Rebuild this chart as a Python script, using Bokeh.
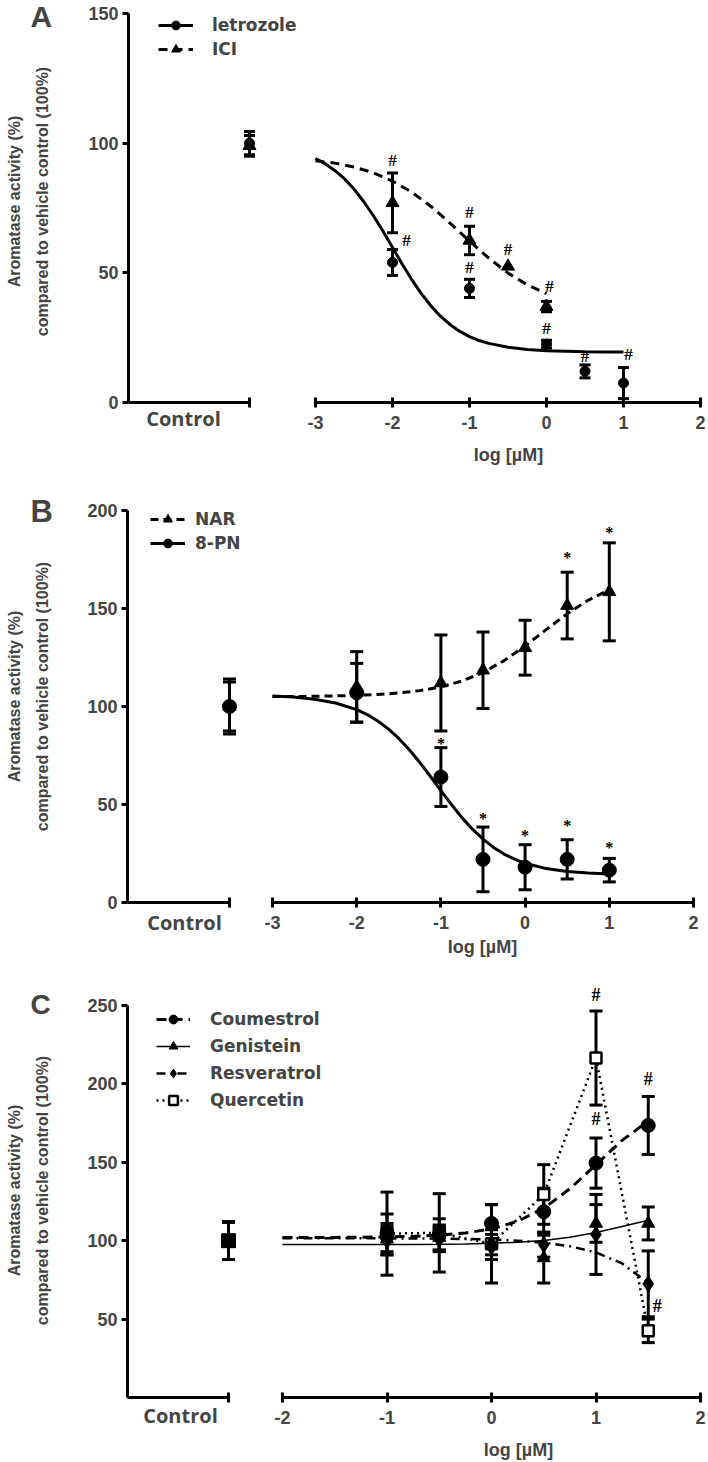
import math
from bokeh.plotting import figure
from bokeh.layouts import column
from bokeh.models import (ColumnDataSource, Whisker, TeeHead, LinearAxis, FixedTicker,
                          Range1d, Legend, LegendItem, Label, LabelSet)
from bokeh.embed import file_html
from bokeh.resources import INLINE

# ======================= DATA =======================
# ---- Panel A ----
A_letro_x = [-2.0, -1.0, 0.0, 0.5, 1.0]
A_letro_y = [54.0, 44.0, 22.5, 12.0, 7.5]
A_letro_err = [5.0, 3.5, 1.5, 2.5, 6.0]
A_letro_sig = ["#", "#", "#", "#", "#"]
A_ici_x = [-2.0, -1.0, -0.5, 0.0]
A_ici_y = [77.0, 62.5, 52.5, 37.0]
A_ici_err = [11.5, 5.5, 0.0, 2.0]
A_ici_sig = ["#", "#", "#", "#"]
A_ctrl_y = [100.0, 99.0]          # letrozole, ICI
A_ctrl_err = [4.5, 4.0]
A_fit_letro_x = [-3.0, -2.875, -2.75, -2.625, -2.5, -2.375, -2.25, -2.125, -2.0, -1.875, -1.75,
                 -1.625, -1.5, -1.375, -1.25, -1.125, -1.0, -0.875, -0.75, -0.5, -0.25,
                 0.0, 0.25, 0.5, 0.75, 1.0]
A_fit_letro_y = [94.1, 92.1, 89.5, 86.3, 82.3, 77.5, 72.1, 66.1, 59.8, 53.4, 47.4,
                 42.0, 37.2, 33.2, 30.0, 27.4, 25.4, 23.9, 22.8, 21.3, 20.4,
                 20.0, 19.8, 19.6, 19.5, 19.5]
A_fit_ici_x = [-3.0, -2.75, -2.5, -2.25, -2.0, -1.75, -1.5, -1.25, -1.0, -0.75, -0.5, -0.25, 0.0]
A_fit_ici_y = [93.2, 92.3, 90.8, 88.6, 85.4, 81.1, 75.6, 69.1, 62.2, 55.7, 49.9, 45.4, 42.0]
A_x_ticks = [-3, -2, -1, 0, 1, 2]
A_y_ticks = [0, 50, 100, 150]

# ---- Panel B ----
B_x = [-2.0, -1.0, -0.5, 0.0, 0.5, 1.0]
B_nar_y = [110.0, 112.0, 118.5, 130.0, 151.5, 158.5]
B_nar_err = [18.0, 24.5, 19.5, 14.0, 17.0, 25.0]
B_nar_sig = ["", "", "", "", "*", "*"]
B_pn_y = [107.0, 64.0, 22.0, 18.0, 22.0, 16.5]
B_pn_err = [15.0, 15.0, 16.5, 11.5, 10.0, 6.0]
B_pn_sig = ["", "*", "*", "*", "*", "*"]
B_ctrl_y = [100.0, 100.0]         # NAR, 8-PN
B_ctrl_err = [14.0, 12.5]
B_fit_nar_x = [-3.0, -2.75, -2.5, -2.25, -2.0, -1.75, -1.5, -1.25, -1.0, -0.75, -0.5,
               -0.25, 0.0, 0.25, 0.5, 0.75, 1.0]
B_fit_nar_y = [105.1, 105.1, 105.2, 105.4, 105.7, 106.1, 106.9, 108.1, 110.0, 113.0, 117.3,
               123.4, 130.9, 139.2, 147.3, 154.2, 159.6]
B_fit_pn_x = [-3.0, -2.75, -2.5, -2.25, -2.0, -1.875, -1.75, -1.625, -1.5, -1.375, -1.25,
              -1.125, -1.0, -0.875, -0.75, -0.625, -0.5, -0.375, -0.25, -0.125, 0.0,
              0.25, 0.5, 0.75, 1.0]
B_fit_pn_y = [105.3, 104.8, 103.7, 101.8, 98.4, 95.9, 92.6, 88.6, 83.7, 77.9, 71.4,
              64.4, 57.1, 50.0, 43.3, 37.4, 32.3, 28.1, 24.7, 22.1, 20.0,
              17.3, 15.8, 15.0, 14.5]
B_x_ticks = [-3, -2, -1, 0, 1, 2]
B_y_ticks = [0, 50, 100, 150, 200]

# ---- Panel C ----
C_x = [-1.0, -0.5, 0.0, 0.5, 1.0, 1.5]
C_cou_y = [105.0, 104.0, 111.0, 118.5, 149.5, 173.5]
C_cou_err = [12.0, 10.0, 12.0, 15.0, 16.0, 18.5]
C_cou_sig = ["", "", "", "", "#", "#"]
C_gen_y = [101.0, 102.0, 99.0, 89.0, 111.0, 111.0]
C_gen_err = [10.0, 8.0, 8.0, 16.0, 12.0, 10.5]
C_res_y = [100.0, 101.0, 96.0, 97.5, 104.0, 72.5]
C_res_err = [9.0, 8.0, 8.0, 8.0, 25.5, 21.0]
C_que_y = [104.5, 105.0, 98.0, 129.5, 216.5, 42.5]
C_que_err = [26.5, 25.0, 25.0, 19.0, 30.0, 7.5]
C_que_sig = ["", "", "", "", "#", "#"]
C_ctrl_y = [100.0, 100.0, 100.0, 100.0]   # Coumestrol, Genistein, Resveratrol, Quercetin
C_ctrl_err = [12.0, 12.0, 12.0, 12.0]
C_fit_x = [-2.0, -1.75, -1.5, -1.25, -1.0, -0.75, -0.5, -0.25, 0.0, 0.25, 0.5, 0.75, 1.0, 1.25, 1.5]
C_fit_cou_y = [102.0, 102.0, 102.1, 102.2, 102.4, 102.7, 103.5, 104.9, 107.5, 112.4, 120.7,
               133.1, 148.5, 164.0, 176.3]
C_fit_gen_y = [97.5, 97.5, 97.5, 97.5, 97.6, 97.6, 97.7, 97.9, 98.3, 99.0, 100.2,
               102.2, 105.2, 109.0, 113.0]
C_fit_res_y = [101.5, 101.5, 101.5, 101.5, 101.5, 101.4, 101.3, 101.1, 100.7, 100.0, 98.8,
               96.5, 92.5, 85.5, 73.0]
C_x_ticks = [-2, -1, 0, 1, 2]
C_y_ticks = [50, 100, 150, 200, 250]

YLABEL1 = "Aromatase activity (%)"
YLABEL2 = "compared to vehicle control (100%)"
XLABEL = "log [µM]"
FONT = "Liberation Sans"
W = 708


# ======================= GEOMETRY / HELPERS =======================
class Geo:
    """Page-pixel layout of one panel (the plot frame covers the whole canvas)."""
    def __init__(self, top, height, x_ref, x_ref_px, sx, y0_px, sy, yaxis_px, ctrl_px):
        self.top, self.height = top, height
        self.x_ref, self.x_ref_px, self.sx = x_ref, x_ref_px, sx
        self.y0_px, self.sy = y0_px, sy
        self.yaxis_px, self.ctrl_px = yaxis_px, ctrl_px

    def X(self, px):
        return self.x_ref + (px - self.x_ref_px) / self.sx

    def Y(self, py):
        return (self.y0_px - py) / self.sy


def build_panel(g, y_end, y_ticks, x_ticks, main_start, main_end):
    p = figure(width=W, height=g.height,
               x_range=Range1d(g.X(0), g.X(W)), y_range=Range1d(g.Y(g.top + g.height), g.Y(g.top)),
               x_axis_type=None, y_axis_type=None,
               output_backend="svg", toolbar_location=None,
               min_border=0, min_border_top=0, min_border_bottom=0,
               min_border_left=0, min_border_right=0)
    p.outline_line_color = None
    x_left = g.X(g.yaxis_px)
    x_ctrl = g.X(g.ctrl_px)
    yax = LinearAxis(bounds=(0, y_end), ticker=FixedTicker(ticks=y_ticks), fixed_location=x_left,
                     axis_line_width=3, major_tick_line_width=3,
                     major_tick_in=0, major_tick_out=6, minor_tick_in=0, minor_tick_out=0,
                     major_label_standoff=4, major_label_text_font=FONT,
                     major_label_text_font_style="bold", major_label_text_font_size="18px")
    p.add_layout(yax, "left")
    ctrl_ax = LinearAxis(bounds=(x_left, x_ctrl), ticker=FixedTicker(ticks=[x_ctrl]), fixed_location=0,
                         axis_line_width=3, major_tick_line_width=3,
                         major_tick_in=5, major_tick_out=5, minor_tick_in=0, minor_tick_out=0,
                         major_label_overrides={x_ctrl: ""}, major_label_text_font_size="0px")
    p.add_layout(ctrl_ax, "below")
    main_ax = LinearAxis(bounds=(main_start, main_end), ticker=FixedTicker(ticks=x_ticks), fixed_location=0,
                         axis_line_width=3, major_tick_line_width=3,
                         major_tick_in=5, major_tick_out=5, minor_tick_in=0, minor_tick_out=0,
                         major_label_overrides={t: str(t) for t in x_ticks},
                         major_label_standoff=8, major_label_text_font=FONT,
                         major_label_text_font_style="bold", major_label_text_font_size="18px")
    p.add_layout(main_ax, "below")
    return p, x_ctrl


def add_series(p, x, y, err, marker, size, cap, fill="black", lw=1.0):
    wx = [a for a, e in zip(x, err) if e > 0]
    wy = [b for b, e in zip(y, err) if e > 0]
    we = [e for e in err if e > 0]
    wsrc = ColumnDataSource(dict(x=wx, upper=[b + e for b, e in zip(wy, we)],
                                 lower=[b - e for b, e in zip(wy, we)]))
    p.add_layout(Whisker(source=wsrc, base="x", upper="upper", lower="lower", dimension="height",
                         line_width=3, line_color="black",
                         upper_head=TeeHead(size=cap, line_width=3, line_color="black"),
                         lower_head=TeeHead(size=cap, line_width=3, line_color="black")))
    src = ColumnDataSource(dict(x=x, y=y))
    return p.scatter("x", "y", source=src, marker=marker, size=size,
                     fill_color=fill, line_color="black", line_width=lw)


def add_marks(p, x, y, err, texts, dx, dy, size):
    src = ColumnDataSource(dict(x=x, y=[b + e for b, e in zip(y, err)], t=texts, dx=dx, dy=dy))
    p.add_layout(LabelSet(x="x", y="y", text="t", source=src, x_offset="dx", y_offset="dy",
                          text_align="center", text_baseline="bottom", text_font=FONT,
                          text_font_style="bold", text_font_size=size, text_color="black"))


def add_legend(p, g, items, left_px, top_px, glyph_w, standoff, spacing):
    n = len(items)
    box_h = n * 22 + (n - 1) * spacing
    vy = (g.top + g.height) - (top_px + box_h)
    leg = Legend(items=[LegendItem(label=l, renderers=r) for l, r in items],
                 location=(left_px, vy), padding=0, margin=0, spacing=spacing,
                 glyph_width=glyph_w, glyph_height=22, label_height=22,
                 label_standoff=standoff, border_line_alpha=0, background_fill_alpha=0,
                 label_text_font="DejaVu Sans", label_text_font_style="bold",
                 label_text_font_size="17px")
    p.add_layout(leg)


def add_texts(p, g, letter, letter_size, letter_mid_px, ctrl_center_px, ctrl_mid_px,
              xlab_center_px, xlab_mid_px, ylab_mid_px):
    p.add_layout(Label(x=g.X(30), y=g.Y(letter_mid_px), text=letter, text_font=FONT,
                       text_font_style="bold", text_font_size=letter_size,
                       text_align="left", text_baseline="middle"))
    p.add_layout(Label(x=g.X(ctrl_center_px), y=g.Y(ctrl_mid_px), text="Control",
                       text_font="Open Sans", text_font_style="bold", text_font_size="20px",
                       text_align="center", text_baseline="middle"))
    p.add_layout(Label(x=g.X(xlab_center_px), y=g.Y(xlab_mid_px), text=XLABEL, text_font=FONT,
                       text_font_style="bold", text_font_size="18px",
                       text_align="center", text_baseline="middle"))
    for txt, px in ((YLABEL1, 14), (YLABEL2, 42)):
        p.add_layout(Label(x=g.X(px), y=g.Y(ylab_mid_px), text=txt, angle=math.pi / 2,
                           text_font=FONT, text_font_style="bold", text_font_size="16px",
                           text_align="center", text_baseline="middle"))


# ======================= PANEL A =======================
gA = Geo(top=0, height=486, x_ref=-3.0, x_ref_px=315, sx=77.0, y0_px=402, sy=389.0 / 150.0,
         yaxis_px=128, ctrl_px=249)
pA, xcA = build_panel(gA, 150.0, A_y_ticks, A_x_ticks, -3.0, 2.0)
la = pA.line(A_fit_letro_x, A_fit_letro_y, line_color="black", line_width=3)
li = pA.line(A_fit_ici_x, A_fit_ici_y, line_color="black", line_width=3, line_dash="9 6")
sa = add_series(pA, [xcA] + A_letro_x, [A_ctrl_y[0]] + A_letro_y, [A_ctrl_err[0]] + A_letro_err,
                "circle", 10, 11)
si = add_series(pA, [xcA] + A_ici_x, [A_ctrl_y[1]] + A_ici_y, [A_ctrl_err[1]] + A_ici_err,
                "triangle", 13, 11)
add_marks(pA, A_letro_x, A_letro_y, A_letro_err, A_letro_sig, [14, 0, 0, 0, 5], [-1, 2, 2, -1, 3], "17px")
add_marks(pA, A_ici_x, A_ici_y, A_ici_err, A_ici_sig, [0, 0, 0, 3], [3, 4, 7, 5], "17px")
add_legend(pA, gA, [("letrozole", [la, sa]), ("ICI", [li, si])], 158, 14, 35, 19, 2)
add_texts(pA, gA, "A", "30px", 16, 183, 418, 508, 454, 201)

# ======================= PANEL B =======================
gB = Geo(top=486, height=474, x_ref=-3.0, x_ref_px=272, sx=84.2, y0_px=902, sy=392.0 / 200.0,
         yaxis_px=127, ctrl_px=229)
pB, xcB = build_panel(gB, 200.0, B_y_ticks, B_x_ticks, -3.0, 2.0)
lp = pB.line(B_fit_pn_x, B_fit_pn_y, line_color="black", line_width=3)
ln = pB.line(B_fit_nar_x, B_fit_nar_y, line_color="black", line_width=3, line_dash="8 5")
sp = add_series(pB, [xcB] + B_x, [B_ctrl_y[1]] + B_pn_y, [B_ctrl_err[1]] + B_pn_err, "circle", 14, 13)
sn = add_series(pB, [xcB] + B_x, [B_ctrl_y[0]] + B_nar_y, [B_ctrl_err[0]] + B_nar_err, "triangle", 13, 13)
add_marks(pB, B_x, B_pn_y, B_pn_err, B_pn_sig, [0] * 6, [0, -4, 0, 1, 6, 2], "16px")
add_marks(pB, B_x, B_nar_y, B_nar_err, B_nar_sig, [0] * 6, [0, 0, 0, 0, 6, 2], "16px")
add_legend(pB, gB, [("NAR", [ln, sn]), ("8-PN", [lp, sp])], 150, 508, 35, 10, 2)
add_texts(pB, gB, "B", "31px", 511, 184, 922, 482, 946, 696)

# ======================= PANEL C =======================
gC = Geo(top=960, height=502, x_ref=-2.0, x_ref_px=282, sx=104.5, y0_px=1397, sy=392.0 / 250.0,
         yaxis_px=127, ctrl_px=228)
pC, xcC = build_panel(gC, 250.0, C_y_ticks, C_x_ticks, -2.0, 2.0)
lq = pC.line(C_x, C_que_y, line_color="black", line_width=2.5, line_dash="2 4")
lc = pC.line(C_fit_x, C_fit_cou_y, line_color="black", line_width=3, line_dash="10 6")
lg = pC.line(C_fit_x, C_fit_gen_y, line_color="black", line_width=1.5)
lr = pC.line(C_fit_x, C_fit_res_y, line_color="black", line_width=2.5, line_dash="9 5 2 5")
sq = add_series(pC, [xcC] + C_x, [C_ctrl_y[3]] + C_que_y, [C_ctrl_err[3]] + C_que_err,
                "square", 11, 13, fill="white", lw=2.5)
sg = add_series(pC, [xcC] + C_x, [C_ctrl_y[1]] + C_gen_y, [C_ctrl_err[1]] + C_gen_err, "triangle", 13, 13)
sr = add_series(pC, [xcC] + C_x, [C_ctrl_y[2]] + C_res_y, [C_ctrl_err[2]] + C_res_err, "diamond", 16, 13)
sc = add_series(pC, [xcC] + C_x, [C_ctrl_y[0]] + C_cou_y, [C_ctrl_err[0]] + C_cou_err, "circle", 14, 13)
pC.scatter([xcC], [C_ctrl_y[0]], marker="square", size=14, fill_color="black", line_color="black")
add_marks(pC, C_x, C_cou_y, C_cou_err, C_cou_sig, [0] * 6, [0, 0, 0, 0, 9, 7], "18px")
add_marks(pC, C_x, C_que_y, C_que_err, C_que_sig, [0, 0, 0, 0, 0, 9], [0, 0, 0, 0, 6, 3], "18px")
add_legend(pC, gC, [("Coumestrol", [lc, sc]), ("Genistein", [lg, sg]),
                    ("Resveratrol", [lr, sr]), ("Quercetin", [lq, sq])], 156, 1008, 34, 20, 5)
add_texts(pC, gC, "C", "28px", 1004, 180, 1415, 518, 1449, 1190)

layout = column(pA, pB, pC, spacing=0)
open("out.html", "w").write(file_html(layout, INLINE))
